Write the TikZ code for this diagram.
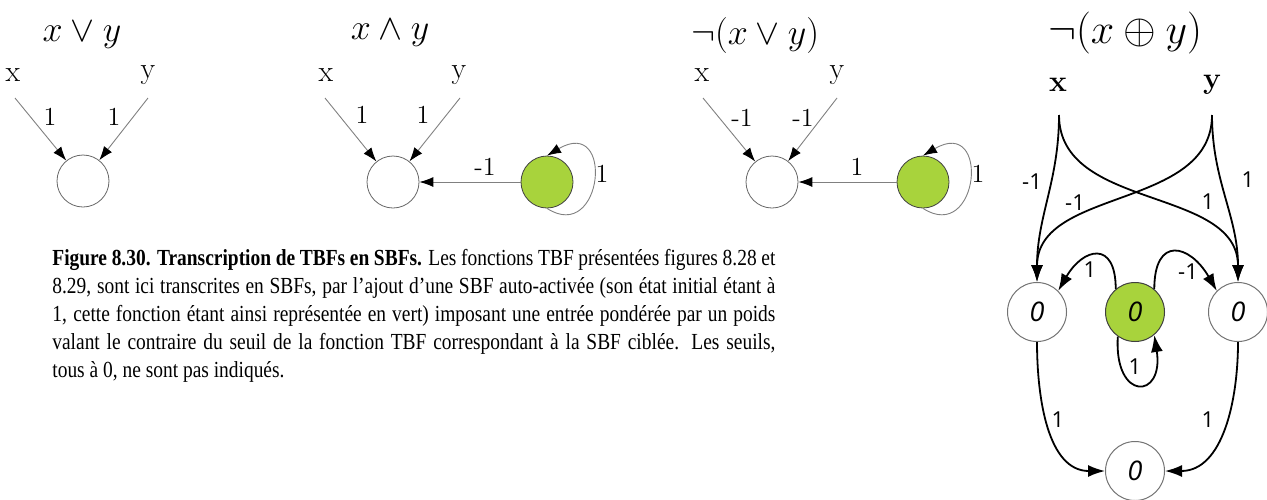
\RequirePackage{fix-cm}
\documentclass[tikz,border=0pt]{standalone}
\usepackage{amsmath}
\usepackage{fontspec}
\usetikzlibrary{arrows.meta}
\newfontfamily\capfont[FakeStretch=0.845]{Liberation Serif}
\newfontfamily\lblfont{Open Sans}
\definecolor{sbfgreen}{RGB}{168,211,60}

\begin{document}
\begin{tikzpicture}[x=0.5pt,y=-0.5pt,
  tbf/.style={circle,draw=black!60,line width=0.4pt,minimum size=26pt,inner sep=0pt},
  sbf/.style={tbf,fill=sbfgreen,draw=black!75},
  wire/.style={draw=black!50,line width=0.45pt,-{Latex[length=7pt,width=5pt,color=black]}},
  wirebig/.style={draw=black,line width=0.9pt,-{Latex[length=8.5pt,width=6pt]}},
  fname/.style={font=\fontsize{18}{20}\selectfont},
  var/.style={font=\fontsize{15}{17}\selectfont},
  wgt/.style={font=\fontsize{13}{15}\selectfont},
  lbl/.style={font=\lblfont\fontsize{11}{13}\selectfont},
  sbfnode/.style={circle,draw=black!55,line width=0.5pt,minimum size=29.5pt,inner sep=0pt,
    font=\lblfont\itshape\fontsize{13.5}{15}\selectfont}]
  \useasboundingbox (0,0) rectangle (1267,499);

  % x or y
  \node[fname] (t1) at (82,35) {$x \vee y$};
  \node[var] (x1) at (13,75) {x};
  \node[var] (y1) at (148,75) {y};
  \coordinate (x1s) at (15,98);
  \coordinate (y1s) at (148,98);
  \node[tbf] (c1) at (83,181) {};
  \draw[wire] (x1s) -- (c1);
  \draw[wire] (y1s) -- (c1);
  \node[wgt] (w1a) at (50,117) {1};
  \node[wgt] (w1b) at (114,117) {1};

  % x and y
  \node[fname] (t2) at (390,33) {$x \wedge y$};
  \node[var] (x2) at (326,75) {x};
  \node[var] (y2) at (459,75) {y};
  \coordinate (x2s) at (325,98);
  \coordinate (y2s) at (460,98);
  \node[tbf] (c2) at (393,182) {};
  \node[sbf] (g2) at (547,182) {};
  \draw[wire] (x2s) -- (c2);
  \draw[wire] (y2s) -- (c2);
  \draw[wire] (g2) -- (c2);
  \draw[wire] (g2.south) .. controls +(56,36) and +(68,-40) .. (g2.north);
  \node[wgt] (w2a) at (362,115) {1};
  \node[wgt] (w2b) at (423,115) {1};
  \node[wgt] (w2c) at (485,167) {-1};
  \node[wgt] (w2d) at (602,174) {1};

  % not (x or y)
  \node[fname] (t3) at (755,35) {$\neg(x \vee y)$};
  \node[var] (x3) at (702,75) {x};
  \node[var] (y3) at (837,75) {y};
  \coordinate (x3s) at (703,98);
  \coordinate (y3s) at (837,98);
  \node[tbf] (c3) at (772,182) {};
  \node[sbf] (g3) at (923,182) {};
  \draw[wire] (x3s) -- (c3);
  \draw[wire] (y3s) -- (c3);
  \draw[wire] (g3) -- (c3);
  \draw[wire] (g3.south) .. controls +(56,36) and +(68,-40) .. (g3.north);
  \node[wgt] (w3a) at (742,118) {-1};
  \node[wgt] (w3b) at (803,118) {-1};
  \node[wgt] (w3c) at (857,167) {1};
  \node[wgt] (w3d) at (978,174) {1};

  % not (x xor y)
  \node[font=\fontsize{21}{24}\selectfont] (t4) at (1125,33) {$\neg(x \oplus y)$};
  \node[var] (x4) at (1058,85) {\textbf{x}};
  \node[var] (y4) at (1212,85) {\textbf{y}};
  \coordinate (x4s) at (1059,115);
  \coordinate (y4s) at (1212,115);
  \node[sbfnode] (nl) at (1037,312) {0};
  \node[sbfnode,fill=sbfgreen,draw=black!75] (ng) at (1135,312) {0};
  \node[sbfnode] (nr) at (1238,312) {0};
  \node[sbfnode] (nb) at (1135,471) {0};
  \draw[wirebig] (x4s) to[out=-90,in=90] (nl.north);
  \draw[wirebig] (x4s) to[out=-90,in=90] (nr.north);
  \draw[wirebig] (y4s) to[out=-90,in=90] (nl.north);
  \draw[wirebig] (y4s) to[out=-90,in=90] (nr.north);
  \draw[wirebig] (ng.130) to[out=90,in=60,looseness=2.2] (nl.45);
  \draw[wirebig] (ng.50) to[out=90,in=120,looseness=2.2] (nr.135);
  \draw[wirebig] (ng.235) .. controls +(-4,65) and +(10,65) .. (ng.-50);
  \draw[wirebig] (nl.south) to[out=-90,in=180] (nb.west);
  \draw[wirebig] (nr.south) to[out=-90,in=0] (nb.east);
  \node[lbl] (w4a) at (1032,182) {-1};
  \node[lbl] (w4b) at (1075,203) {-1};
  \node[lbl] (w4c) at (1208,202) {1};
  \node[lbl] (w4d) at (1248,180) {1};
  \node[lbl] (w4e) at (1090,270) {1};
  \node[lbl] (w4f) at (1188,272) {-1};
  \node[lbl] (w4g) at (1135,367) {1};
  \node[lbl] (w4h) at (1058,420) {1};
  \node[lbl] (w4i) at (1208,420) {1};

  \node[anchor=north west,inner sep=0pt,text width=361.5pt,align=justify,
    font=\capfont\fontsize{11.5}{14}\selectfont] (cap) at (52,249)
    {\textbf{Figure 8.30. Transcription de TBFs en SBFs.} Les fonctions TBF présentées figures 8.28 et\linebreak
     8.29, sont ici transcrites en SBFs, par l’ajout d’une SBF auto-activée (son état initial étant à\linebreak
     1, cette fonction étant ainsi représentée en vert) imposant une entrée pondérée par un poids\linebreak
     valant le contraire du seuil de la fonction TBF correspondant à la SBF ciblée. Les seuils,\linebreak
     tous à 0, ne sont pas indiqués.};
\end{tikzpicture}
\end{document}
